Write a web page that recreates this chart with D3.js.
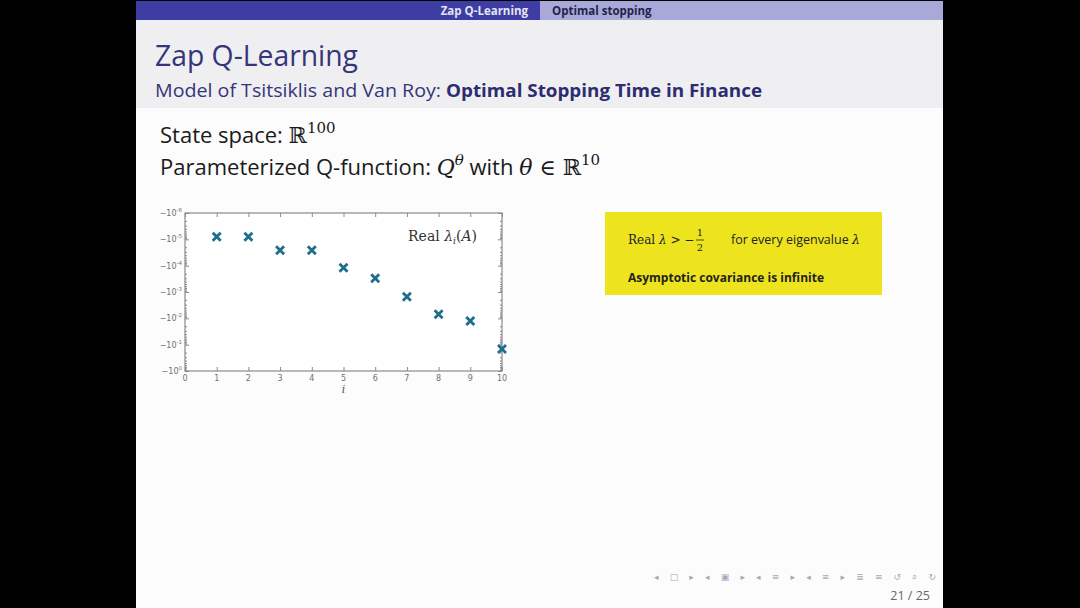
<!DOCTYPE html>
<html>
<head>
<meta charset="utf-8">
<script src="https://cdn.jsdelivr.net/npm/d3@7"></script>
<style>
  html, body { margin: 0; padding: 0; background: #000; }
  svg { display: block; }
</style>
</head>
<body>
<div id="slide"></div>
<script>
// eigenvalue index and real part of lambda_i(A) (negative)
const indices = [1, 2, 3, 4, 5, 6, 7, 8, 9, 10];
const realLambda = [-8e-6, -8e-6, -2.6e-5, -2.6e-5, -1.2e-4, -3.0e-4, -1.5e-3, -7.0e-3, -1.25e-2, -1.45e-1];
const xTicks = [0, 1, 2, 3, 4, 5, 6, 7, 8, 9, 10];
const yExponents = [-6, -5, -4, -3, -2, -1, 0];

const W = 1080, H = 608;
const svg = d3.select("#slide").append("svg")
    .attr("width", W)
    .attr("height", H);

// fond noir + diapo
svg.append("rect").attr("width", W).attr("height", H).attr("fill", "#000");
svg.append("rect").attr("x", 136).attr("y", 1).attr("width", 807).attr("height", 607).attr("fill", "#fcfcfc");

// barre de navigation en haut
svg.append("rect").attr("x", 136).attr("y", 1).attr("width", 404).attr("height", 19).attr("fill", "#3d3da3");
svg.append("rect").attr("x", 540).attr("y", 1).attr("width", 403).attr("height", 19).attr("fill", "#a9a9d9");
svg.append("text").attr("x", 528).attr("y", 15).attr("text-anchor", "end")
    .attr("font-family", "Open Sans").attr("font-weight", "bold").attr("font-size", 11.5)
    .attr("fill", "#e4e4f4").text("Zap Q-Learning");
svg.append("text").attr("x", 552).attr("y", 15)
    .attr("font-family", "Open Sans").attr("font-weight", "bold").attr("font-size", 11.5)
    .attr("fill", "#23234a").text("Optimal stopping");

// zone titre
svg.append("rect").attr("x", 136).attr("y", 20).attr("width", 807).attr("height", 88).attr("fill", "#efeff1");
svg.append("text").attr("x", 155).attr("y", 66)
    .attr("font-family", "Open Sans").attr("font-size", 29)
    .attr("textLength", 203).attr("lengthAdjust", "spacingAndGlyphs")
    .attr("fill", "#35357a").text("Zap Q-Learning");
svg.append("text").attr("x", 155).attr("y", 97)
    .attr("font-family", "Open Sans").attr("font-size", 18.5).attr("fill", "#35357a")
    .attr("textLength", 286).attr("lengthAdjust", "spacingAndGlyphs")
    .text("Model of Tsitsiklis and Van Roy:");
svg.append("text").attr("x", 446).attr("y", 97)
    .attr("font-family", "Open Sans").attr("font-weight", "bold").attr("font-size", 18.5).attr("fill", "#2c2c70")
    .attr("textLength", 316).attr("lengthAdjust", "spacingAndGlyphs")
    .text("Optimal Stopping Time in Finance");

// texte du corps
const body1 = svg.append("text").attr("x", 160).attr("y", 143)
    .attr("font-family", "Open Sans").attr("font-size", 22).attr("fill", "#1a1a1a");
body1.append("tspan").text("State space: ");
body1.append("tspan").attr("font-family", "DejaVu Serif").text("ℝ");
body1.append("tspan").attr("font-family", "DejaVu Serif").attr("font-size", 15).attr("dy", -10).text("100");

const body2 = svg.append("text").attr("x", 160).attr("y", 175)
    .attr("font-family", "Open Sans").attr("font-size", 22).attr("fill", "#1a1a1a");
body2.append("tspan").text("Parameterized Q-function: ");
body2.append("tspan").attr("font-family", "DejaVu Serif").attr("font-style", "italic").text("Q");
body2.append("tspan").attr("font-family", "DejaVu Serif").attr("font-style", "italic").attr("font-size", 15).attr("dy", -10).text("θ");
body2.append("tspan").attr("dy", 10).text(" with ");
body2.append("tspan").attr("font-family", "DejaVu Serif").attr("font-style", "italic").text("θ");
body2.append("tspan").attr("font-family", "DejaVu Serif").text(" ∈ ℝ");
body2.append("tspan").attr("font-family", "DejaVu Serif").attr("font-size", 15).attr("dy", -10).text("10");

// graphique
const plot = { left: 185, right: 502, top: 213, bottom: 371 };
const x = d3.scaleLinear().domain([0, 10]).range([plot.left, plot.right]);
const y = d3.scaleLog().domain([1e-6, 1]).range([plot.top, plot.bottom]);
const axisColor = "#8a8a8a";

const g = svg.append("g");
g.append("rect").attr("x", plot.left).attr("y", plot.top)
    .attr("width", plot.right - plot.left).attr("height", plot.bottom - plot.top)
    .attr("fill", "#fff").attr("stroke", axisColor).attr("stroke-width", 1.2);

const majors = yExponents.map(e => Math.pow(10, e));
const minors = [];
for (let e = -6; e < 0; e++) for (let k = 2; k <= 9; k++) minors.push(k * Math.pow(10, e));

function styleAxis(sel) {
    sel.select(".domain").remove();
    sel.selectAll("line").attr("stroke", axisColor);
}

// ticks vers l'intérieur
g.append("g").attr("transform", `translate(${plot.left},0)`)
    .call(d3.axisLeft(y).tickValues(majors).tickSize(-4).tickFormat(""))
    .call(styleAxis);
g.append("g").attr("transform", `translate(${plot.left},0)`)
    .call(d3.axisLeft(y).tickValues(minors).tickSize(-2).tickFormat(""))
    .call(styleAxis);
g.append("g").attr("transform", `translate(${plot.right},0)`)
    .call(d3.axisRight(y).tickValues(majors).tickSize(-4).tickFormat(""))
    .call(styleAxis);
g.append("g").attr("transform", `translate(${plot.right},0)`)
    .call(d3.axisRight(y).tickValues(minors).tickSize(-2).tickFormat(""))
    .call(styleAxis);
g.append("g").attr("transform", `translate(0,${plot.bottom})`)
    .call(d3.axisBottom(x).tickValues(xTicks).tickSize(-4).tickFormat(""))
    .call(styleAxis);
g.append("g").attr("transform", `translate(0,${plot.top})`)
    .call(d3.axisTop(x).tickValues(xTicks).tickSize(-4).tickFormat(""))
    .call(styleAxis);

// étiquettes des axes
g.selectAll(".xlab").data(xTicks).join("text")
    .attr("x", d => x(d)).attr("y", plot.bottom + 10)
    .attr("text-anchor", "middle")
    .attr("font-family", "DejaVu Sans").attr("font-size", 8).attr("fill", "#6f6f6f")
    .text(d => d);

const ylab = g.selectAll(".ylab").data(yExponents).join("text")
    .attr("x", plot.left - 3).attr("y", d => y(Math.pow(10, d)) + 3)
    .attr("text-anchor", "end")
    .attr("font-family", "DejaVu Sans").attr("font-size", 8).attr("fill", "#6f6f6f");
ylab.append("tspan").text("−10");
ylab.append("tspan").attr("font-size", 5.5).attr("dy", -4).text(d => d);

g.append("text").attr("x", x(5)).attr("y", plot.bottom + 22)
    .attr("text-anchor", "middle")
    .attr("font-family", "DejaVu Serif").attr("font-style", "italic").attr("font-size", 11)
    .attr("fill", "#555").text("i");

const leg = g.append("text").attr("x", 477).attr("y", 241).attr("text-anchor", "end")
    .attr("font-family", "DejaVu Serif").attr("font-size", 14).attr("fill", "#333");
leg.append("tspan").text("Real ");
leg.append("tspan").attr("font-style", "italic").text("λ");
leg.append("tspan").attr("font-style", "italic").attr("font-size", 9).attr("dy", 3).text("i");
leg.append("tspan").attr("dy", -3).text("(");
leg.append("tspan").attr("font-style", "italic").text("A");
leg.append("tspan").text(")");

// marqueurs en croix
const s = 4;
g.selectAll(".pt").data(indices).join("path")
    .attr("transform", (d, i) => `translate(${x(d)},${y(-realLambda[i])})`)
    .attr("d", `M${-s},${-s}L${s},${s}M${-s},${s}L${s},${-s}`)
    .attr("stroke", "#1d6d8c").attr("stroke-width", 2.8).attr("fill", "none");

// encadré jaune
svg.append("rect").attr("x", 605).attr("y", 212).attr("width", 277).attr("height", 83).attr("fill", "#ede41d");
const box1 = svg.append("text").attr("x", 628).attr("y", 244)
    .attr("font-family", "DejaVu Serif").attr("font-size", 12).attr("fill", "#222");
box1.append("tspan").text("Real ");
box1.append("tspan").attr("font-style", "italic").text("λ");
box1.append("tspan").text(" > −");
svg.append("text").attr("x", 700).attr("y", 236).attr("text-anchor", "middle")
    .attr("font-family", "DejaVu Serif").attr("font-size", 10).attr("fill", "#222").text("1");
svg.append("line").attr("x1", 696).attr("x2", 704).attr("y1", 240).attr("y2", 240)
    .attr("stroke", "#222").attr("stroke-width", 0.8);
svg.append("text").attr("x", 700).attr("y", 251).attr("text-anchor", "middle")
    .attr("font-family", "DejaVu Serif").attr("font-size", 10).attr("fill", "#222").text("2");
const box2 = svg.append("text").attr("x", 731).attr("y", 244)
    .attr("font-family", "Open Sans").attr("font-size", 12.5).attr("fill", "#222");
box2.append("tspan").text("for every eigenvalue ");
box2.append("tspan").attr("font-family", "DejaVu Serif").attr("font-style", "italic").text("λ");
svg.append("text").attr("x", 628).attr("y", 282)
    .attr("font-family", "Open Sans").attr("font-weight", "bold").attr("font-size", 11.5)
    .attr("textLength", 196).attr("lengthAdjust", "spacingAndGlyphs")
    .attr("fill", "#222").text("Asymptotic covariance is infinite");

// navigation beamer en bas
svg.append("text").attr("x", 654).attr("y", 580)
    .attr("font-family", "DejaVu Sans").attr("font-size", 9).attr("fill", "#a9a9b9")
    .attr("textLength", 282).attr("lengthAdjust", "spacing")
    .text("◂ □ ▸ ◂ ▣ ▸ ◂ ≡ ▸ ◂ ≡ ▸ ≣ ≡ ↺ ⌕ ↻");
svg.append("text").attr("x", 930).attr("y", 600).attr("text-anchor", "end")
    .attr("font-family", "Open Sans").attr("font-size", 12.5).attr("fill", "#666")
    .text("21 / 25");
</script>
</body>
</html>
